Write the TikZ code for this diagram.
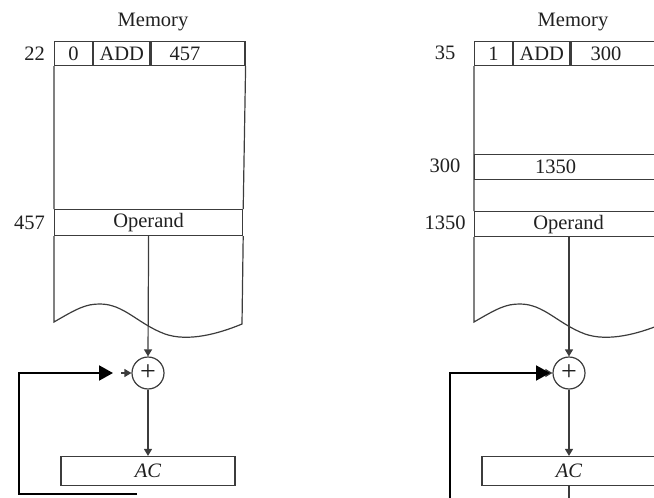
\documentclass[tikz,border=0pt]{standalone}
\usepackage{fontspec}
\setmainfont{Liberation Serif}
\usepackage{tikz}
\usetikzlibrary{arrows.meta, positioning, calc}
\definecolor{linegray}{HTML}{3C3C3C}
\definecolor{textgray}{HTML}{202020}
\newcommand{\memfont}{\fontsize{20.5}{24}\selectfont}

\begin{document}
\begin{tikzpicture}[x=1pt, y=-1pt,
    cell/.style={draw=linegray, line width=1.2pt, inner sep=0pt,
      minimum height=24, font=\memfont, text=textgray},
    addrlabel/.style={font=\memfont, text=textgray, inner sep=0pt},
    memline/.style={draw=linegray, line width=1.2pt},
    adder/.style={circle, draw=linegray, line width=1.2pt,
      minimum size=32, inner sep=0pt, font=\fontsize{28}{28}\selectfont, text=textgray},
    acbox/.style={draw=linegray, line width=1.2pt, minimum width=174,
      minimum height=29, inner sep=0pt, font=\memfont\itshape, text=textgray},
    flow/.style={-{Triangle[length=7pt, width=8pt]}, linegray, line width=1.2pt},
    feedback/.style={-{Triangle[length=14pt, width=15pt]}, black, line width=2pt},
]
\clip (0,0) rectangle (654,498);

% direct addressing
\begin{scope}
\node[cell, minimum width=38, anchor=north west] (instrL) at (54,41) {0};
\node[cell, minimum width=56, right=0pt of instrL] (opcodeL) {ADD};
\node[cell, minimum width=94, right=0pt of opcodeL] (addressL) {457\kern26pt};
\node[addrlabel] (memL) at (153,22) {Memory};
\node[addrlabel, left=9pt of instrL] (pcL) {22};
\node[cell, minimum width=188, minimum height=26, anchor=north west] (operandL) at (54,209) {Operand};
\node[addrlabel, left=9pt of operandL] (eaL) {457};
\node[adder] (sumL) at (148,373) {+};
\node[acbox] (accL) at (148,471) {AC};
\coordinate (fbL) at (137,494);
\coordinate (inL) at (113,373);

\draw[memline] (instrL.south west) -- (operandL.north west)
  (addressL.south east) -- (operandL.north east);
\draw[memline] (operandL.south west) -- (54,322)
  .. controls (78,308) and (86,304) .. (100,304)
  .. controls (124,304) and (138,324) .. (165,334)
  .. controls (188,342) and (218,334) .. (242,324) -- (operandL.south east);
\draw[flow] (operandL.south) -- (sumL.north);
\draw[flow] (sumL.south) -- (accL.north);
\draw[flow] ($(sumL.west)+(-10,0)$) -- (sumL.west);
\draw[feedback] (fbL) -- ++(-118,0) |- (inL);
\end{scope}

% indirect addressing
\begin{scope}[xshift=420]
\node[cell, minimum width=38, anchor=north west] (instrR) at (54,41) {1};
\node[cell, minimum width=56, right=0pt of instrR] (opcodeR) {ADD};
\node[cell, minimum width=94, right=0pt of opcodeR] (addressR) {300\kern24pt};
\node[addrlabel] (memR) at (153,22) {Memory};
\node[addrlabel] (pcR) at (25,53) {35};
\node[cell, minimum width=188, minimum height=25, anchor=north west] (pointerR) at (54,154) {1350\kern26pt};
\node[addrlabel] (ptrR) at (25,166) {300};
\node[cell, minimum width=188, minimum height=25, anchor=north west] (operandR) at (54,211) {Operand};
\node[addrlabel] (eaR) at (25,223) {1350};
\node[adder] (sumR) at (149,373) {+};
\node[acbox] (accR) at (149,471) {AC};
\coordinate (fbR) at (30,510);
\coordinate (inR) at (130,373);
\coordinate (outR) at (149,510);

\draw[memline] (instrR.south west) -- (operandR.north west)
  (addressR.south east) -- (operandR.north east);
\draw[memline] (operandR.south west) -- (54,322)
  .. controls (78,308) and (86,304) .. (100,304)
  .. controls (124,304) and (138,324) .. (165,334)
  .. controls (188,342) and (218,334) .. (242,324) -- (operandR.south east);
\draw[flow] (operandR.south -| sumR) -- (sumR.north);
\draw[flow] (sumR.south) -- (accR.north);
\draw[flow] ($(sumR.west)+(-10,0)$) -- (sumR.west);
\draw[memline] (accR.south) -- (outR);
\draw[feedback] (fbR) |- (inR);
\end{scope}
\end{tikzpicture}
\end{document}
